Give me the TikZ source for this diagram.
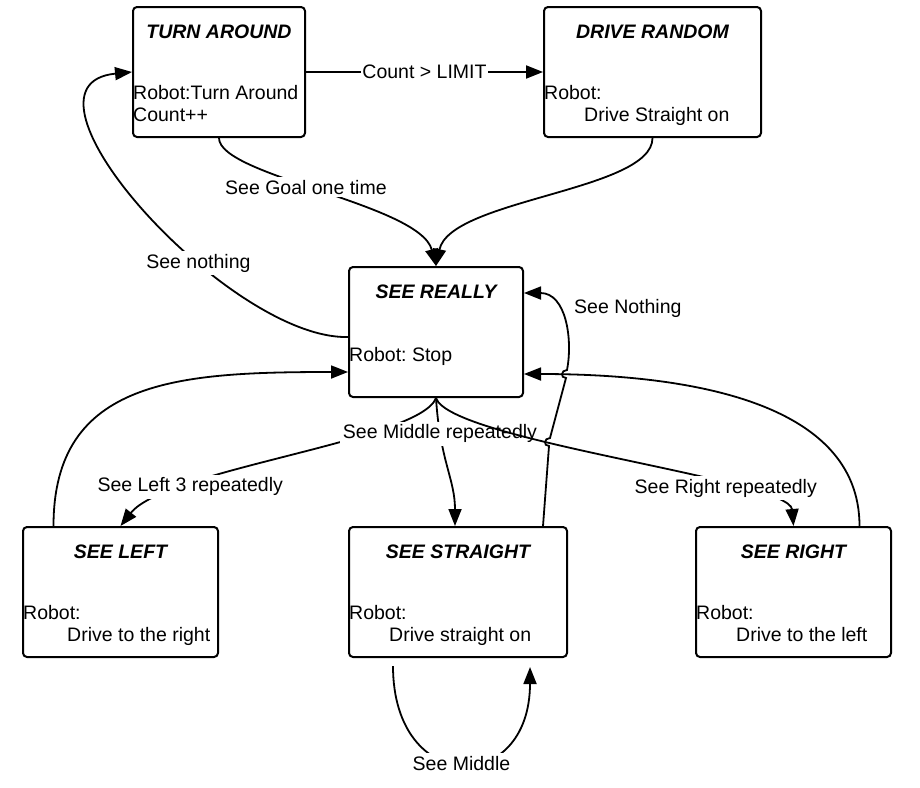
\documentclass[tikz,border=0pt]{standalone}
\usepackage{fontspec}
\setmainfont{Liberation Sans}
\usetikzlibrary{positioning,calc,arrows.meta}

\newcommand\diagfont{\fontsize{19.5}{22}\selectfont\frenchspacing}

\tikzset{
	statebox/.style={draw, line width=2pt, rounded corners=4pt, minimum height=130pt, inner sep=0pt},
	statetitle/.style={inner sep=0pt, font=\diagfont\bfseries\itshape},
	statebody/.style={inner sep=0pt, align=left, anchor=north west},
	lbl/.style={fill=white, inner sep=3pt},
	trans/.style={line width=1.8pt, -{Triangle[length=17pt,width=13pt]}},
}

\begin{document}
\begin{tikzpicture}[x=1pt, y=-1pt, font=\diagfont]
	\useasboundingbox (0,0) rectangle (920,787);
	\node[statebox, minimum width=172pt] (turnaround) at (219,72) {};
	\node[statebox, minimum width=217pt] (driverandom) at (652.5,72) {};
	\node[statebox, minimum width=174pt] (seereally) at (436,332) {};
	\node[statebox, minimum width=195pt] (seeleft) at (120.5,592) {};
	\node[statebox, minimum width=218pt] (seestraight) at (458,592) {};
	\node[statebox, minimum width=195pt] (seeright) at (793.5,592) {};
	\node[statetitle, below=19pt of turnaround.north] (turntitle) {TURN AROUND};
	\node[statetitle, below=19pt of driverandom.north] (drivetitle) {DRIVE RANDOM};
	\node[statetitle, below=19pt of seereally.north] (reallytitle) {SEE REALLY};
	\node[statetitle, below=19pt of seeleft.north] (lefttitle) {SEE LEFT};
	\node[statetitle, below=19pt of seestraight.north] (straighttitle) {SEE STRAIGHT};
	\node[statetitle, below=19pt of seeright.north] (righttitle) {SEE RIGHT};
	\node[statebody] (turnbody) at ($(turnaround.north west)+(1,79)$) {Robot:Turn Around\\Count++};
	\node[statebody] (drivebody) at ($(driverandom.north west)+(1,79)$) {Robot:\\\hspace*{40pt}Drive Straight on};
	\node[statebody] (reallybody) at ($(seereally.north west)+(1,81)$) {Robot: Stop};
	\node[statebody] (leftbody) at ($(seeleft.north west)+(1,79)$) {Robot:\\\hspace*{44pt}Drive to the right};
	\node[statebody] (straightbody) at ($(seestraight.north west)+(1,79)$) {Robot:\\\hspace*{40pt}Drive straight on};
	\node[statebody] (rightbody) at ($(seeright.north west)+(1,79)$) {Robot:\\\hspace*{40pt}Drive to the left};
	\draw[trans] (turnaround.east) to node[lbl, inner sep=1pt] {Count > LIMIT} (driverandom.west);
	\draw[trans] (turnaround.south) .. controls +(0,38) and +(-16,-62) .. (seereally.north) node[lbl, pos=.45] {See Goal one time};
	\draw[trans] (driverandom.south) .. controls +(0,53) and +(14,-67) .. (seereally.north);
	\draw[trans] ($(seereally.west)+(0,5)$) .. controls +(-119,3) and +(-133,13) .. (turnaround.west) node[lbl, pos=.36] {See nothing};
	\draw[trans] ($(seeleft.north)+(-67,0)$) .. controls +(0,-147) and +(-169,0) .. ($(seereally.west)+(0,40)$);
	\draw[trans] (seereally.south) .. controls +(-16,43) and +(45,-57) .. (seeleft.north) node[lbl, pos=.74] {See Left 3 repeatedly};
	\draw[trans] (seereally.south) .. controls +(4,63) and +(0,-47) .. ($(seestraight.north)+(-3,0)$) node[lbl, pos=.22] {See Middle repeatedly};
	\draw[trans] (seereally.south) .. controls +(14,43) and +(-4,-47) .. (seeright.north) node[lbl, pos=.72] {See Right repeatedly};
	\draw[trans] ($(seeright.north)+(66,0)$) .. controls +(0,-127) and +(157,0) .. ($(seereally.east)+(0,42)$);
	\draw[trans] ($(seestraight.north)+(85,0)$) -- ++(6,-80) .. controls +(-6,0) and +(-6,0) .. ++(1,-8) -- ++(16,-60) .. controls +(-6,0) and +(-6,0) .. ++(1,-8) .. controls +(6,-31) and +(42,0) .. ($(seereally.east)+(0,-39)$);
	\node[lbl, anchor=west] (nothinglbl) at ($(seereally.east)+(47,-24)$) {See Nothing};
	\draw[trans] ($(seestraight.south)+(-65,8)$) .. controls +(0,130) and +(0,129) .. ($(seestraight.south)+(72,9)$) node[lbl, pos=.5] {See Middle};
\end{tikzpicture}
\end{document}
